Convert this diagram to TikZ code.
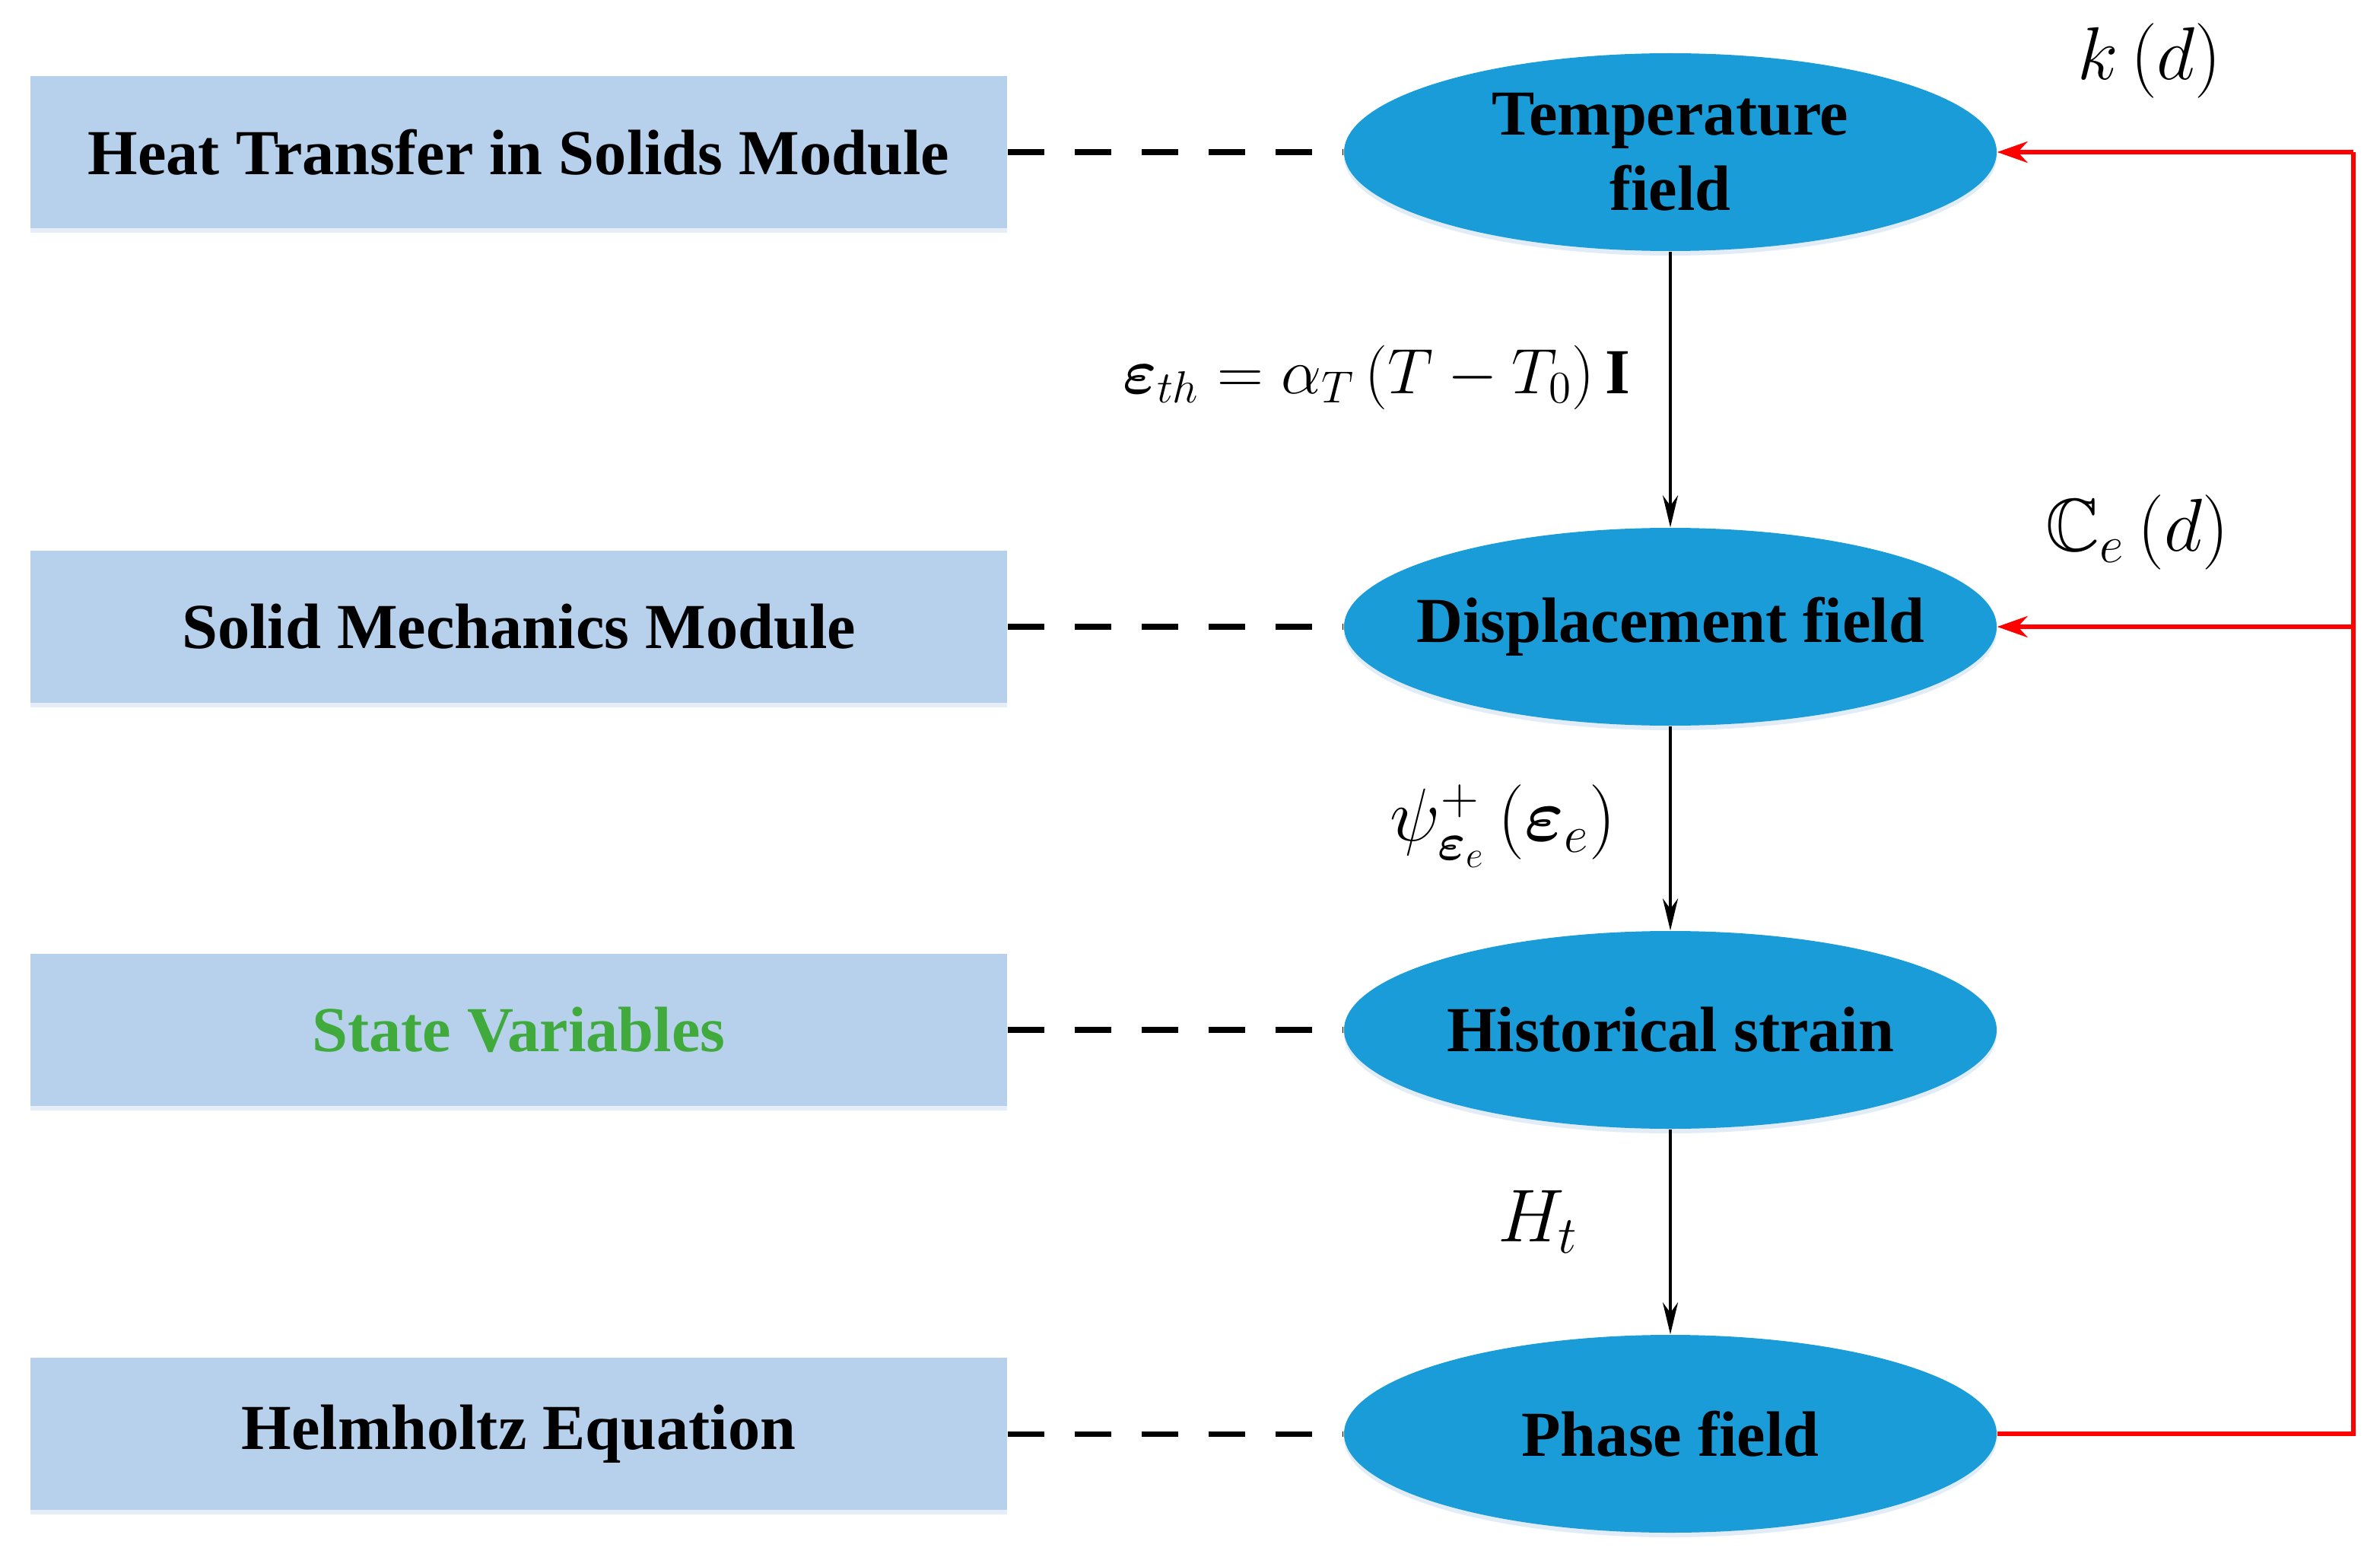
\documentclass[tikz,border=0pt]{standalone}
\usepackage{fix-cm}
\usepackage{amsmath,amssymb,bm}
\usepackage{fontspec}
\setmainfont{Liberation Serif}
\usetikzlibrary{arrows.meta,shadows,shapes.geometric}
\definecolor{boxblue}{RGB}{183,209,236}
\definecolor{fieldblue}{RGB}{26,156,216}
\definecolor{stategreen}{RGB}{64,170,60}
\begin{document}
\begin{tikzpicture}[
    module/.style={rectangle, fill=boxblue, minimum width=12.84cm, minimum height=2cm,
      font=\fontsize{24}{28}\selectfont\bfseries,
      drop shadow={shadow xshift=0cm, shadow yshift=-0.06cm, fill=boxblue!60, opacity=0.6}},
    field/.style={ellipse, fill=fieldblue, minimum width=8.58cm, minimum height=2.6cm,
      inner xsep=-1.2cm, inner ysep=-0.4cm,
      align=center, font=\fontsize{24}{28}\selectfont\bfseries,
      drop shadow={shadow xshift=0cm, shadow yshift=-0.06cm, fill=boxblue!70, opacity=0.6}},
    link/.style={line width=2pt, dash pattern=on 0.48cm off 0.4cm},
    flow/.style={line width=1.2pt, -{Stealth[length=0.42cm, width=0.2cm]}},
    feed/.style={red, line width=1.5pt},
    lbl/.style={font=\fontsize{28}{32}\selectfont}
  ]
  \useasboundingbox (0,0) rectangle (31.29,-20.47);
  % modules on the left
  \node[module] (heat) at (6.82,-2.00) {Heat Transfer in Solids Module};
  \node[module] (solid) at (6.82,-8.24) {Solid Mechanics Module};
  \node[module, text=stategreen] (state) at (6.82,-13.54) {State Variables};
  \node[module] (helm) at (6.82,-18.85) {Helmholtz Equation};
  % fields on the right
  \node[field] (temp) at (21.96,-2.00) {Temperature\\field};
  \node[field] (disp) at (21.96,-8.24) {Displacement field};
  \node[field] (hist) at (21.96,-13.54) {Historical strain};
  \node[field] (phase) at (21.96,-18.85) {Phase field};
  \coordinate (rtop) at (30.94,-2.00);
  \begin{scope}[-]
    \draw[link] (heat) -- (temp);
    \draw[link] (solid) -- (disp);
    \draw[link] (state) -- (hist);
    \draw[link] (helm) -- (phase);
  \end{scope}
  \draw[flow] (temp) -- (disp);
  \draw[flow] (disp) -- (hist);
  \draw[flow] (hist) -- (phase);
  \draw[feed] (phase.east) -| (rtop);
  \draw[feed, -{Stealth[length=0.4cm, width=0.28cm]}] (rtop) -- (temp.east);
  \draw[feed, -{Stealth[length=0.4cm, width=0.28cm]}] (disp.east -| rtop) -- (disp.east);
  % labels
  \node[lbl] (kd) at (28.26,-0.80) {$k\left(d\right)$};
  \node[lbl] (ced) at (28.10,-7.00) {$\mathbb{C}_e\left(d\right)$};
  \node[lbl, font=\fontsize{24}{28}\selectfont] (epsth) at (18.10,-4.96) {$\bm{\varepsilon}_{th}=\alpha_T\,(T-T_0)\,\mathbf{I}$};
  \node[lbl] (psi) at (19.76,-10.86) {$\psi^{+}_{\bm{\varepsilon}_e}\,(\bm{\varepsilon}_e)$};
  \node[lbl] (ht) at (20.22,-16.06) {$H_t$};
\end{tikzpicture}
\end{document}
